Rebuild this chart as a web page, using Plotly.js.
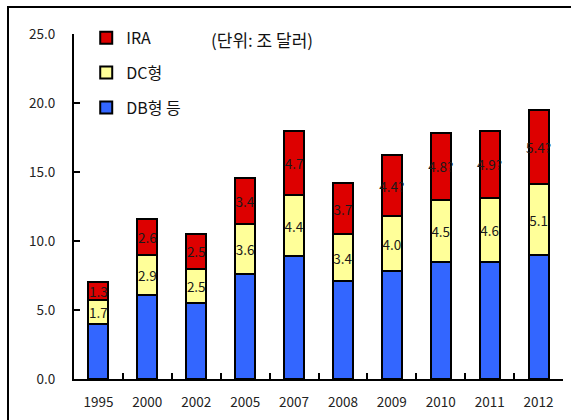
<!DOCTYPE html>
<html>
<head>
<meta charset="utf-8">
<script src="https://cdn.plot.ly/plotly-3.0.1.min.js"></script>
<style>
html,body{margin:0;padding:0;background:#fff;}
#frame{position:absolute;left:7px;top:6px;width:640px;height:480px;border:2px solid #000;box-sizing:border-box;pointer-events:none;z-index:5;}
#chart{position:absolute;left:0;top:0;width:571px;height:420px;}
</style>
</head>
<body>
<div id="chart"></div>
<div id="frame"></div>
<script>
const years = ['1995','2000','2002','2005','2007','2008','2009','2010','2011','2012'];
const dbValues = [4.0, 6.1, 5.5, 7.6, 8.9, 7.1, 7.8, 8.5, 8.5, 9.0];
const dcValues = [1.7, 2.9, 2.5, 3.6, 4.4, 3.4, 4.0, 4.5, 4.6, 5.1];
const iraValues = [1.3, 2.6, 2.5, 3.4, 4.7, 3.7, 4.4, 4.8, 4.9, 5.4];
const dcLabels = ['1.7','2.9','2.5','3.6','4.4','3.4','4.0','4.5','4.6','5.1'];
const iraLabels = ['1.3','2.6','2.5','3.4','4.7','3.7','4.4?','4.8?','4.9?','5.4?'];
const seriesNames = ['DB형 등', 'DC형', 'IRA'];
const yTicks = [0, 5, 10, 15, 20, 25];

const FONT = '"Noto Sans CJK KR", "Open Sans", sans-serif';
const lineStyle = {color: '#000', width: 2};
const textFont = {family: FONT, size: 13.5, color: '#1a1a1a'};

const traces = [
  {type: 'bar', name: seriesNames[0], x: years, y: dbValues, legendgroup: 'a', legendrank: 3,
   marker: {color: '#3366FF', line: lineStyle}, hoverinfo: 'none'},
  {type: 'bar', name: seriesNames[1], x: years, y: dcValues, legendgroup: 'b', legendrank: 2,
   text: dcLabels, textposition: 'inside', insidetextanchor: 'middle', constraintext: 'none',
   textfont: textFont, insidetextfont: textFont, textangle: 0,
   marker: {color: '#FFFF99', line: lineStyle}, hoverinfo: 'none'},
  {type: 'bar', name: seriesNames[2], x: years, y: iraValues, legendgroup: 'c', legendrank: 1,
   text: iraLabels, textposition: 'inside', insidetextanchor: 'middle', constraintext: 'none',
   textfont: textFont, insidetextfont: textFont, textangle: 0,
   marker: {color: '#DD0000', line: lineStyle}, hoverinfo: 'none'}
];

const layout = {
  width: 571, height: 420,
  margin: {l: 74, r: 8, t: 34, b: 41},
  paper_bgcolor: '#fff', plot_bgcolor: '#fff',
  barmode: 'stack', bargap: 0.59,
  font: {family: FONT, size: 13.5, color: '#222'},
  showlegend: true,
  legend: {x: 0.025, y: 1.038, xanchor: 'left', yanchor: 'top', traceorder: 'grouped',
           tracegroupgap: 11, font: {family: FONT, size: 16, color: '#111'},
           bgcolor: 'rgba(0,0,0,0)'},
  xaxis: {type: 'category', showline: true, linecolor: '#000', linewidth: 2,
          ticks: 'inside', ticklen: 6, tickwidth: 2, tickcolor: '#000', tickson: 'boundaries',
          showgrid: false, zeroline: false, tickfont: {family: FONT, size: 13.5, color: '#222'},
          ticklabelstandoff: 10},
  yaxis: {range: [0, 25], tickvals: yTicks, tickformat: '.1f', showline: true, linecolor: '#000', linewidth: 2,
          ticks: 'inside', ticklen: 6, tickwidth: 2, tickcolor: '#000',
          showgrid: false, zeroline: false, tickfont: {family: FONT, size: 13.5, color: '#222'},
          ticklabelstandoff: 14},
  annotations: [
    {text: '(단위: 조 달러)', xref: 'paper', yref: 'paper', x: 0.277, y: 0.985, xanchor: 'left', yanchor: 'middle',
     showarrow: false, font: {family: FONT, size: 17, color: '#111'}}
  ]
};

Plotly.newPlot('chart', traces, layout, {displayModeBar: false, staticPlot: true});
</script>
</body>
</html>
